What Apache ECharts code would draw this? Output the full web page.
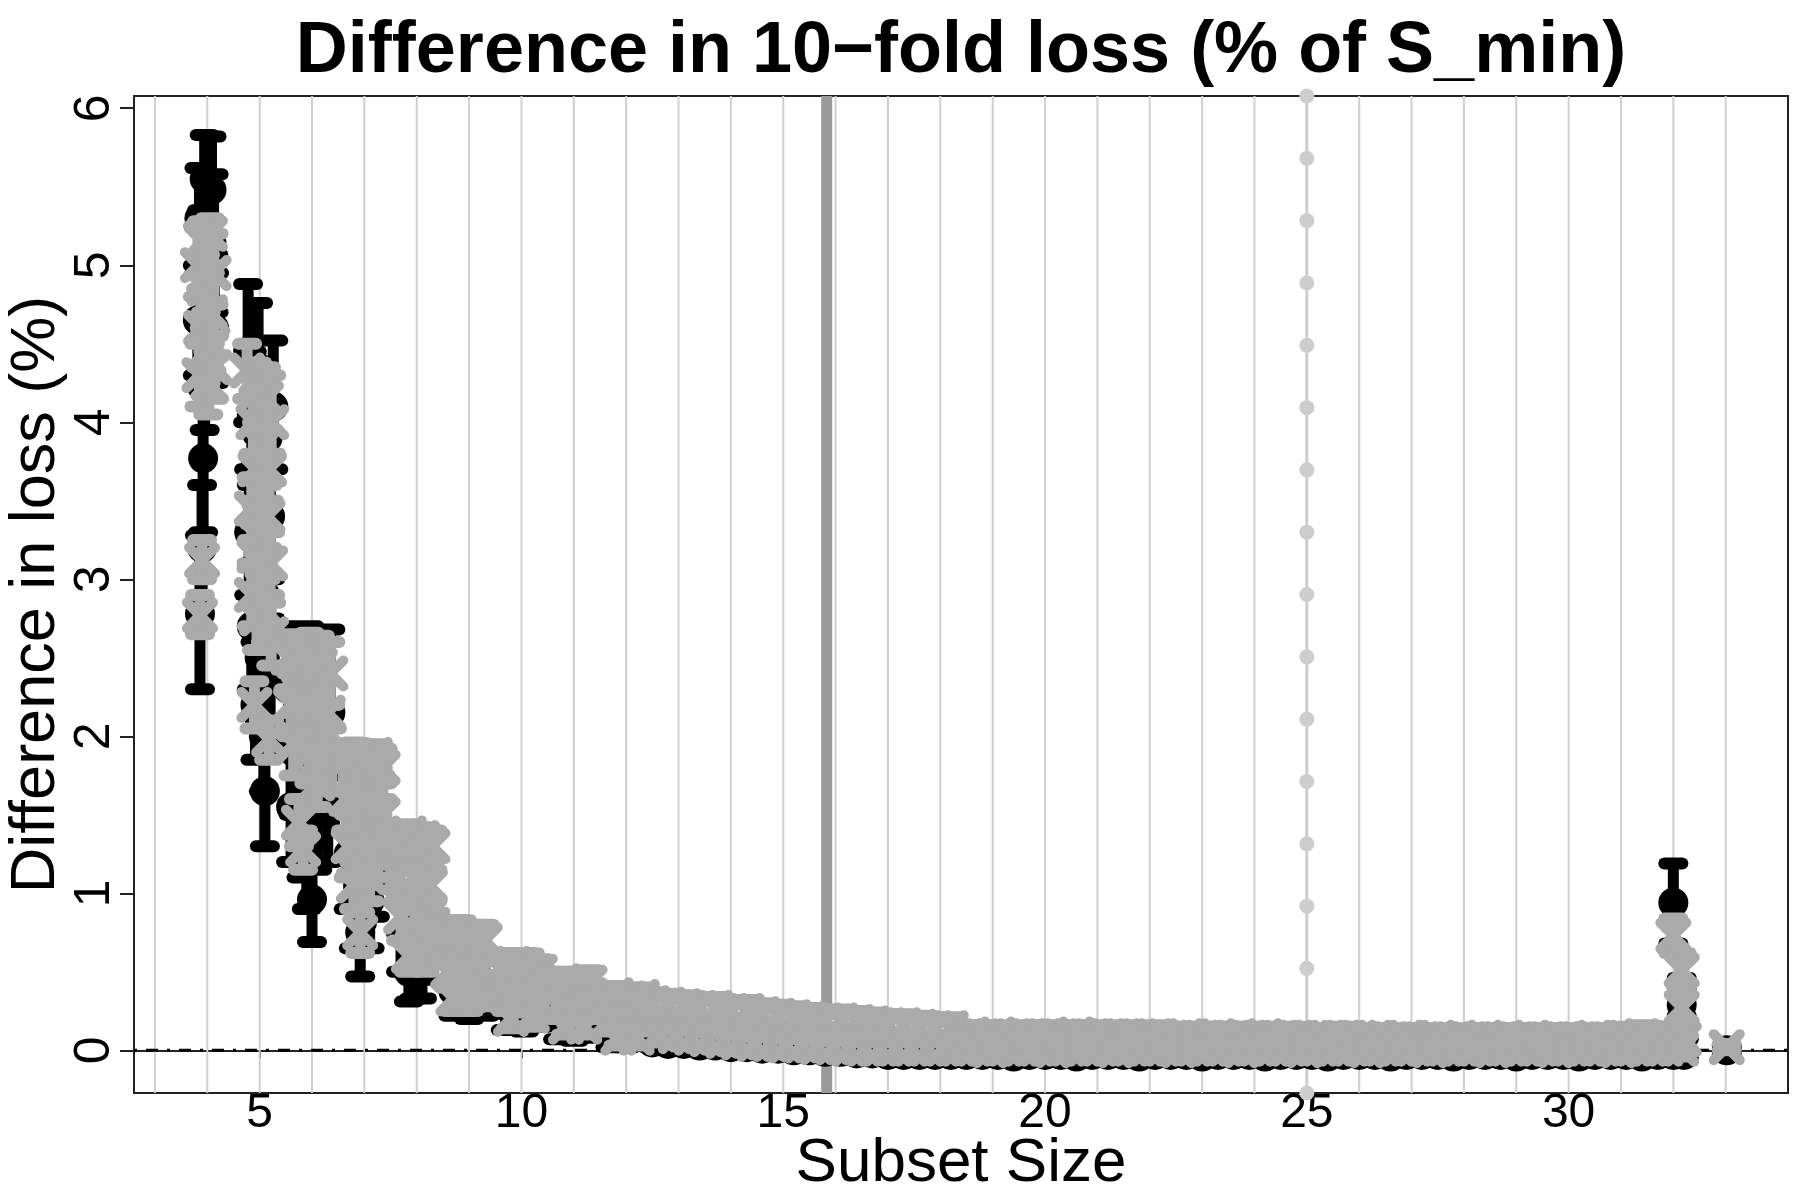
<!DOCTYPE html>
<html><head><meta charset="utf-8">
<script src="https://cdn.jsdelivr.net/npm/echarts@6/dist/echarts.min.js"></script>
<style>html,body{margin:0;padding:0;background:#fff}#c{width:1800px;height:1197px}</style>
</head><body><div id="c"></div>
<script>
// ---- axis extents and ticks ----
const X_MIN = 2.60, X_MAX = 34.19, Y_MIN = -0.272, Y_MAX = 6.078;
const xTicks = [5, 10, 15, 20, 25, 30];
const yTicks = [0, 1, 2, 3, 4, 5, 6];
const gridX = [3,4,5,6,7,8,9,10,11,12,13,14,15,16,17,18,19,20,21,22,23,24,25,26,27,28,29,30,31,32,33];
const minSizeX = [15.83];
const ref25X = 25;
const ref25DotsY = [6.078,5.681,5.284,4.887,4.490,4.093,3.697,3.300,2.903,2.506,2.109,1.712,1.315,0.918,0.522,0.125,-0.272];
const zeroY = [0];

// ---- data: [subset size (offset), estimate, lower, upper] ----
const blackLow = [
 [3.95,5.55,5.25,5.83],[4.08,5.48,5.15,5.82],[3.85,5.30,4.95,5.62],[4.12,5.05,4.70,5.58],
 [3.90,5.00,4.60,5.35],[4.02,4.75,4.35,5.15],[3.82,4.65,4.30,5.00],[4.13,4.60,4.25,4.95],
 [3.95,4.35,3.95,4.70],[3.92,3.77,3.30,4.20],[3.90,3.20,2.85,3.60],[3.86,2.78,2.30,3.28],
 [4.78,4.45,4.00,4.88],[4.97,4.35,3.90,4.76],[5.26,4.10,3.70,4.52],[4.85,4.05,3.60,4.45],
 [5.15,3.90,3.50,4.30],[4.90,3.70,3.30,4.10],[5.05,3.50,3.10,3.90],[5.20,3.40,3.00,3.80],
 [4.80,3.30,2.90,3.70],[4.95,3.10,2.70,3.50],[5.10,2.90,2.50,3.30],[4.85,2.70,2.30,3.10],
 [5.00,2.50,2.10,2.90],[5.20,2.35,1.95,2.75],[4.92,2.20,1.85,2.60],[5.08,2.00,1.65,2.40],
 [5.10,1.65,1.30,2.00],
 [5.55,2.30,1.90,2.70],[5.75,2.25,1.85,2.68],[5.95,2.20,1.80,2.70],[6.15,2.20,1.80,2.65],
 [6.35,2.15,1.75,2.68],[5.65,1.90,1.50,2.30],[5.85,1.80,1.40,2.20],[6.05,1.85,1.45,2.25],
 [6.25,1.80,1.45,2.20],[5.60,1.55,1.20,1.90],[5.80,1.45,1.10,1.80],[6.10,1.50,1.15,1.85],
 [6.30,1.55,1.20,1.90],[5.90,1.20,0.90,1.55],[6.00,0.96,0.69,1.30],
 [6.70,1.25,0.90,1.60],[6.95,1.15,0.80,1.50],[7.20,1.20,0.85,1.55],[6.80,0.95,0.65,1.30],
 [7.10,0.95,0.65,1.30],[6.92,0.75,0.47,1.10],[7.30,1.40,1.05,1.75],
 [7.70,0.75,0.50,1.00],[7.95,0.60,0.33,0.85],[8.20,0.70,0.45,0.95],[7.85,0.50,0.31,0.75],
 [8.10,0.55,0.33,0.80],
 [8.70,0.38,0.22,0.55],[9.00,0.35,0.20,0.50],[9.30,0.40,0.22,0.58],
 [9.70,0.28,0.13,0.42],[10.05,0.25,0.12,0.40],[10.35,0.30,0.15,0.45],
 [10.70,0.20,0.07,0.33],[11.00,0.18,0.06,0.30],[11.30,0.20,0.08,0.33],
 [11.70,0.13,0.02,0.25],[12.00,0.12,0.02,0.22],[12.30,0.13,0.03,0.24]
];
const grayLow = [
 [3.90,5.15,4.95,5.28],[4.05,5.20,5.00,5.30],[3.82,5.00,4.80,5.25],[4.12,4.95,4.75,5.20],
 [3.95,4.85,4.60,5.10],[4.05,4.70,4.50,4.95],[3.88,4.60,4.35,4.85],[4.10,4.50,4.30,4.75],
 [3.97,4.45,4.25,4.70],[3.85,4.30,4.10,4.50],[4.02,4.25,4.05,4.45],[4.13,4.35,4.15,4.55],
 [3.90,3.12,3.00,3.25],[3.86,2.77,2.65,2.90],
 [4.76,4.33,4.15,4.50],[4.95,4.20,4.00,4.38],[5.12,4.15,3.95,4.35],[5.22,4.00,3.80,4.30],
 [4.88,4.00,3.80,4.20],[5.05,3.85,3.65,4.10],[4.92,3.70,3.50,3.95],[5.18,3.70,3.50,3.95],
 [5.00,3.55,3.35,3.80],[4.85,3.45,3.25,3.65],[5.15,3.40,3.20,3.60],[5.02,3.25,3.05,3.45],
 [4.90,3.15,2.95,3.35],[5.20,3.10,2.90,3.30],[5.05,2.95,2.75,3.15],[4.85,2.90,2.70,3.10],
 [5.12,2.80,2.60,3.00],[4.95,2.75,2.55,2.95],[5.22,2.65,2.45,2.85],[4.90,2.20,2.05,2.35],
 [5.18,1.98,1.85,2.10],
 [5.55,2.50,2.30,2.65],[5.75,2.45,2.25,2.62],[5.95,2.50,2.30,2.66],[6.15,2.45,2.25,2.64],
 [6.35,2.40,2.20,2.60],[5.60,2.20,2.00,2.40],[5.85,2.15,1.95,2.35],[6.05,2.20,2.00,2.40],
 [6.30,2.15,1.95,2.35],[5.65,1.95,1.75,2.15],[5.95,1.90,1.70,2.10],[6.20,1.90,1.70,2.10],
 [6.38,1.85,1.65,2.05],[5.75,1.45,1.30,1.60],[5.83,1.28,1.15,1.40],[6.10,1.70,1.55,1.85],
 [6.60,1.85,1.65,1.95],[6.80,1.88,1.70,1.96],[7.00,1.85,1.65,1.95],[7.20,1.88,1.70,1.95],
 [7.35,1.80,1.60,1.92],[6.65,1.60,1.40,1.80],[6.90,1.55,1.35,1.75],[7.15,1.60,1.40,1.80],
 [7.35,1.50,1.30,1.70],[6.70,1.30,1.10,1.50],[7.00,1.25,1.05,1.45],[7.25,1.30,1.10,1.50],
 [6.80,1.05,0.90,1.20],[7.10,1.10,0.95,1.25],[6.92,0.75,0.62,0.88],
 [7.60,1.35,1.20,1.42],[7.85,1.38,1.22,1.44],[8.10,1.35,1.20,1.42],[8.30,1.30,1.15,1.40],
 [7.65,1.10,0.95,1.25],[7.95,1.10,0.95,1.25],[8.25,1.05,0.90,1.20],[7.70,0.85,0.70,1.00],
 [8.00,0.85,0.70,1.00],[8.30,0.80,0.65,0.95],[7.85,0.60,0.50,0.72],[8.15,0.62,0.50,0.75],
 [8.55,0.72,0.60,0.82],[8.80,0.75,0.62,0.83],[9.05,0.72,0.60,0.80],[9.30,0.70,0.58,0.80],
 [8.60,0.50,0.40,0.62],[8.90,0.52,0.40,0.64],[9.20,0.50,0.38,0.62],[8.70,0.33,0.25,0.42],
 [9.00,0.35,0.25,0.45],[9.35,0.38,0.28,0.48],
 [9.60,0.52,0.42,0.60],[9.85,0.55,0.45,0.62],[10.10,0.54,0.44,0.62],[10.35,0.50,0.40,0.58],
 [9.70,0.35,0.25,0.45],[10.00,0.33,0.24,0.43],[10.30,0.32,0.22,0.42],[9.80,0.20,0.14,0.28],
 [10.20,0.22,0.15,0.30],
 [10.55,0.42,0.33,0.50],[10.80,0.44,0.35,0.50],[11.05,0.42,0.33,0.50],[11.30,0.43,0.34,0.51],
 [10.70,0.28,0.20,0.36],[11.00,0.25,0.18,0.33],[11.30,0.27,0.20,0.35],[10.85,0.15,0.10,0.22],
 [11.20,0.15,0.10,0.22],
 [11.55,0.33,0.25,0.40],[11.80,0.35,0.27,0.41],[12.05,0.33,0.25,0.40],[12.30,0.34,0.26,0.40],
 [11.70,0.20,0.12,0.28],[12.00,0.18,0.10,0.26],[12.30,0.20,0.12,0.28],[11.85,0.08,0.03,0.15],
 [12.20,0.08,0.03,0.15]
];
const blackFlat = [
 [12.5,0.05,0.02,0.15],[12.8,0.04,0.01,0.14],[13.1,0.04,0.01,0.14],[13.4,0.03,0.00,0.13],
 [13.7,0.03,0.00,0.13],[14.0,0.02,-0.01,0.12],[14.3,0.02,-0.01,0.12],[14.6,0.01,-0.02,0.11],
 [14.9,0.01,-0.02,0.11],[15.2,0.00,-0.03,0.10],[15.5,0.00,-0.03,0.10],[15.8,-0.01,-0.04,0.09],
 [16.1,-0.01,-0.04,0.09],[16.4,-0.02,-0.05,0.08],[16.7,-0.02,-0.05,0.08],[17.0,-0.03,-0.06,0.07],
 [17.3,-0.03,-0.06,0.07],[17.6,-0.03,-0.06,0.07],[17.9,-0.03,-0.06,0.07],[18.2,-0.03,-0.06,0.07],
 [18.5,-0.03,-0.06,0.07],[18.8,-0.03,-0.06,0.07],[19.1,-0.03,-0.06,0.07],[19.4,-0.04,-0.06,0.06],
 [19.7,-0.03,-0.06,0.07],[20.0,-0.03,-0.06,0.07],[20.3,-0.03,-0.06,0.07],[20.6,-0.04,-0.06,0.06],
 [20.9,-0.03,-0.06,0.07],[21.2,-0.03,-0.06,0.07],[21.5,-0.03,-0.06,0.07],[21.8,-0.04,-0.06,0.06],
 [22.1,-0.03,-0.06,0.07],[22.4,-0.03,-0.06,0.07],[22.7,-0.03,-0.06,0.07],[23.0,-0.04,-0.06,0.06],
 [23.3,-0.03,-0.06,0.07],[23.6,-0.03,-0.06,0.07],[23.9,-0.03,-0.06,0.07],[24.2,-0.04,-0.06,0.06],
 [24.5,-0.03,-0.06,0.07],[24.8,-0.03,-0.06,0.07],[25.1,-0.03,-0.06,0.07],[25.4,-0.04,-0.06,0.06],
 [25.7,-0.03,-0.06,0.07],[26.0,-0.03,-0.06,0.07],[26.3,-0.03,-0.06,0.07],[26.6,-0.04,-0.06,0.06],
 [26.9,-0.03,-0.06,0.07],[27.2,-0.03,-0.06,0.07],[27.5,-0.03,-0.06,0.07],[27.8,-0.04,-0.06,0.06],
 [28.1,-0.03,-0.06,0.07],[28.4,-0.03,-0.06,0.07],[28.7,-0.03,-0.06,0.07],[29.0,-0.04,-0.06,0.06],
 [29.3,-0.03,-0.06,0.07],[29.6,-0.03,-0.06,0.07],[29.9,-0.03,-0.06,0.07],[30.2,-0.04,-0.06,0.06],
 [30.5,-0.03,-0.06,0.07],[30.8,-0.03,-0.06,0.07],[31.1,-0.03,-0.06,0.07],[31.4,-0.04,-0.06,0.06],
 [31.7,-0.03,-0.06,0.07],[32.0,-0.03,-0.06,0.07],[32.2,-0.03,-0.06,0.07]
];
const grayFlatUpper = [
 [12.5,0.30,0.23,0.37],[12.8,0.29,0.22,0.36],[13.1,0.28,0.21,0.35],[13.4,0.27,0.20,0.34],
 [13.7,0.27,0.20,0.34],[14.0,0.25,0.18,0.32],[14.3,0.25,0.18,0.32],[14.6,0.23,0.16,0.30],
 [14.9,0.22,0.15,0.29],[15.2,0.21,0.14,0.28],[15.5,0.20,0.13,0.27],[15.8,0.19,0.12,0.26],
 [16.1,0.19,0.12,0.26],[16.4,0.18,0.11,0.25],[16.7,0.17,0.10,0.24],[17.0,0.16,0.09,0.23],
 [17.3,0.16,0.09,0.23],[17.6,0.15,0.08,0.22],[17.9,0.14,0.07,0.21],[18.2,0.14,0.07,0.21],
 [18.5,0.09,0.03,0.16],[18.8,0.09,0.03,0.16],[19.1,0.10,0.04,0.16],[19.4,0.09,0.03,0.15],
 [19.7,0.09,0.03,0.16],[20.0,0.09,0.03,0.16],[20.3,0.09,0.03,0.15],[20.6,0.10,0.04,0.16],
 [20.9,0.09,0.03,0.16],[21.2,0.09,0.03,0.15],[21.5,0.09,0.03,0.16],[21.8,0.09,0.03,0.15],
 [22.1,0.09,0.03,0.16],[22.4,0.08,0.02,0.15],[22.7,0.09,0.03,0.15],[23.0,0.08,0.02,0.15],
 [23.3,0.09,0.03,0.15],[23.6,0.08,0.02,0.15],[23.9,0.08,0.02,0.15],[24.2,0.09,0.03,0.15],
 [24.5,0.08,0.02,0.14],[24.8,0.08,0.02,0.15],[25.1,0.08,0.02,0.14],[25.4,0.08,0.02,0.14],
 [25.7,0.08,0.02,0.15],[26.0,0.08,0.02,0.14],[26.3,0.08,0.02,0.14],[26.6,0.07,0.01,0.14],
 [26.9,0.08,0.02,0.14],[27.2,0.07,0.01,0.14],[27.5,0.08,0.02,0.14],[27.8,0.07,0.01,0.14],
 [28.1,0.07,0.01,0.14],[28.4,0.08,0.02,0.14],[28.7,0.07,0.01,0.14],[29.0,0.07,0.01,0.14],
 [29.3,0.08,0.02,0.14],[29.6,0.07,0.01,0.14],[29.9,0.07,0.01,0.14],[30.2,0.07,0.01,0.14],
 [30.5,0.08,0.02,0.14],[30.8,0.07,0.01,0.14],[31.1,0.08,0.02,0.15],[31.4,0.09,0.02,0.16],
 [31.7,0.08,0.02,0.15],[32.0,0.08,0.02,0.15],[32.2,0.07,0.01,0.14]
];
const grayFlatLower = [
 [12.65,0.10,0.05,0.16],[12.95,0.09,0.04,0.15],[13.25,0.08,0.03,0.14],[13.55,0.07,0.02,0.13],
 [13.85,0.06,0.01,0.12],[14.15,0.05,0.00,0.11],[14.45,0.04,-0.01,0.10],[14.75,0.04,-0.01,0.10],
 [15.05,0.03,-0.02,0.09],[15.35,0.03,-0.02,0.09],[15.65,0.02,-0.03,0.08],[15.95,0.02,-0.03,0.08],
 [16.25,0.01,-0.04,0.07],[16.55,0.01,-0.04,0.07],[16.85,0.01,-0.04,0.07],[17.15,0.01,-0.04,0.07],
 [17.45,0.01,-0.04,0.07],[17.75,0.01,-0.04,0.07],[18.05,0.01,-0.04,0.07],[18.35,0.01,-0.04,0.07],
 [18.65,0.01,-0.04,0.07],[18.95,0.00,-0.05,0.06],[19.25,0.01,-0.04,0.07],[19.55,0.01,-0.04,0.07],
 [19.85,0.01,-0.04,0.07],[20.15,0.00,-0.05,0.06],[20.45,0.01,-0.04,0.07],[20.75,0.01,-0.04,0.07],
 [21.05,0.01,-0.04,0.07],[21.35,0.00,-0.05,0.06],[21.65,0.01,-0.04,0.07],[21.95,0.01,-0.04,0.07],
 [22.25,0.01,-0.04,0.07],[22.55,0.00,-0.05,0.06],[22.85,0.01,-0.04,0.07],[23.15,0.01,-0.04,0.07],
 [23.45,0.01,-0.04,0.07],[23.75,0.00,-0.05,0.06],[24.05,0.01,-0.04,0.07],[24.35,0.01,-0.04,0.07],
 [24.65,0.01,-0.04,0.07],[24.95,0.00,-0.05,0.06],[25.25,0.01,-0.04,0.07],[25.55,0.01,-0.04,0.07],
 [25.85,0.01,-0.04,0.07],[26.15,0.00,-0.05,0.06],[26.45,0.01,-0.04,0.07],[26.75,0.01,-0.04,0.07],
 [27.05,0.01,-0.04,0.07],[27.35,0.00,-0.05,0.06],[27.65,0.01,-0.04,0.07],[27.95,0.01,-0.04,0.07],
 [28.25,0.01,-0.04,0.07],[28.55,0.00,-0.05,0.06],[28.85,0.01,-0.04,0.07],[29.15,0.01,-0.04,0.07],
 [29.45,0.01,-0.04,0.07],[29.75,0.00,-0.05,0.06],[30.05,0.01,-0.04,0.07],[30.35,0.01,-0.04,0.07],
 [30.65,0.01,-0.04,0.07],[30.95,0.00,-0.05,0.06],[31.25,0.01,-0.04,0.07],[31.55,0.01,-0.04,0.07],
 [31.85,0.01,-0.04,0.07],[32.15,0.01,-0.04,0.07]
];
const blackSpike = [[32.00,0.94,0.68,1.19],[32.16,0.40,0.22,0.58],[32.16,0.29,0.12,0.46],[33.02,0.00,-0.03,0.03]];
const graySpike  = [[32.00,0.73,0.62,0.84],[32.16,0.51,0.40,0.62],[32.16,0.27,0.18,0.38],[33.02,0.02,0.00,0.04]];

// ---- styling ----
const FONT = "'Liberation Sans', Arial, Helvetica, sans-serif";
const BLACK = '#000000', GRAY = '#aaaaaa';

function errRender(kind) {
  return function (params, api) {
    const x = api.value(0), y = api.value(1), lo = api.value(2), hi = api.value(3);
    const p = api.coord([x, y]), a = api.coord([x, lo]), b = api.coord([x, hi]);
    const col = kind === 'black' ? BLACK : GRAY;
    const cw = 9;
    const ch = [
      {type: 'line', shape: {x1: a[0], y1: a[1], x2: b[0], y2: b[1]}, style: {stroke: col, lineWidth: 11}},
      {type: 'line', shape: {x1: a[0] - cw, y1: a[1], x2: a[0] + cw, y2: a[1]}, style: {stroke: col, lineWidth: 12, lineCap: 'round'}},
      {type: 'line', shape: {x1: b[0] - cw, y1: b[1], x2: b[0] + cw, y2: b[1]}, style: {stroke: col, lineWidth: 12, lineCap: 'round'}}
    ];
    if (kind === 'black') {
      ch.push({type: 'circle', shape: {cx: p[0], cy: p[1], r: 15}, style: {fill: col}});
    } else {
      const d = 13;
      ch.push({type: 'line', shape: {x1: p[0] - d, y1: p[1] - d, x2: p[0] + d, y2: p[1] + d}, style: {stroke: col, lineWidth: 10, lineCap: 'round'}});
      ch.push({type: 'line', shape: {x1: p[0] - d, y1: p[1] + d, x2: p[0] + d, y2: p[1] - d}, style: {stroke: col, lineWidth: 10, lineCap: 'round'}});
    }
    return {type: 'group', children: ch};
  };
}

const chart = echarts.init(document.getElementById('c'), null, {renderer: 'canvas'});
chart.setOption({
  animation: false,
  backgroundColor: '#ffffff',
  title: {
    text: 'Difference in 10\u2212fold loss (% of S_min)',
    left: 961, top: 16, textAlign: 'center', padding: 0,
    textStyle: {fontFamily: FONT, fontWeight: 'bold', fontSize: 72, color: '#000'}
  },
  grid: {left: 134, right: 12, top: 96, bottom: 104, outerBoundsMode: 'none', containLabel: false,
         show: true, borderColor: '#222', borderWidth: 2, backgroundColor: 'transparent'},
  xAxis: {
    type: 'value', min: X_MIN, max: X_MAX,
    name: 'Subset Size', nameLocation: 'middle', nameGap: 40, nameMoveOverlap: false,
    nameTextStyle: {fontFamily: FONT, fontSize: 62, color: '#000'},
    axisLine: {show: true, lineStyle: {color: '#222', width: 2}},
    axisTick: {show: true, customValues: xTicks, length: 8, lineStyle: {color: '#222', width: 2}},
    axisLabel: {customValues: xTicks, fontFamily: FONT, fontSize: 48, color: '#000', margin: -3},
    splitLine: {show: false}
  },
  yAxis: {
    type: 'value', min: Y_MIN, max: Y_MAX,
    name: 'Difference in loss (%)', nameLocation: 'middle', nameGap: 66, nameRotate: 90, nameMoveOverlap: false,
    nameTextStyle: {fontFamily: FONT, fontSize: 63, color: '#000'},
    axisLine: {show: true, lineStyle: {color: '#222', width: 2}},
    axisTick: {show: true, customValues: yTicks, length: 14, lineStyle: {color: '#222', width: 2}},
    axisLabel: {customValues: yTicks, fontFamily: FONT, fontSize: 50, color: '#000', rotate: 90, margin: 14},
    splitLine: {show: false}
  },
  series: [
    { // vertical grid lines at each subset size
      type: 'custom', z: 1, silent: true, clip: true,
      data: gridX.map(v => [v, 0]),
      renderItem: (params, api) => {
        const a = api.coord([api.value(0), Y_MIN]), b = api.coord([api.value(0), Y_MAX]);
        return {type: 'line', shape: {x1: a[0], y1: a[1], x2: b[0], y2: b[1]}, style: {stroke: '#cfcfcf', lineWidth: 2}};
      }
    },
    { // zero reference line (dash-dot)
      type: 'custom', z: 2, silent: true, clip: true,
      data: zeroY.map(v => [X_MIN, v]),
      renderItem: (params, api) => {
        const a = api.coord([X_MIN, api.value(1)]), b = api.coord([X_MAX, api.value(1)]);
        return {type: 'line', shape: {x1: a[0], y1: a[1], x2: b[0], y2: b[1]}, style: {stroke: '#000', lineWidth: 3, lineDash: [3, 9, 12, 9]}};
      }
    },
    { // thick vertical line (S_min size)
      type: 'custom', z: 3, silent: true, clip: true,
      data: minSizeX.map(v => [v, 0]),
      renderItem: (params, api) => {
        const a = api.coord([api.value(0), Y_MIN]), b = api.coord([api.value(0), Y_MAX]);
        return {type: 'line', shape: {x1: a[0], y1: a[1], x2: b[0], y2: b[1]}, style: {stroke: '#9a9a9a', lineWidth: 11}};
      }
    },
    { // dotted light line at 25
      type: 'line', z: 4, silent: true, clip: true,
      data: ref25DotsY.map(v => [ref25X, v]),
      symbol: 'circle', symbolSize: 15, showSymbol: true, showAllSymbol: true,
      itemStyle: {color: '#cdcdcd'},
      lineStyle: {color: '#cdcdcd', width: 3}
    },
    {
      type: 'custom', z: 10, silent: true, clip: true,
      data: blackLow.concat(blackFlat, blackSpike),
      encode: {x: 0, y: 1},
      renderItem: errRender('black')
    },
    {
      type: 'custom', z: 11, silent: true, clip: true,
      data: grayLow.concat(grayFlatUpper, grayFlatLower, graySpike),
      encode: {x: 0, y: 1},
      renderItem: errRender('gray')
    }
  ]
});
</script>
</body></html>
